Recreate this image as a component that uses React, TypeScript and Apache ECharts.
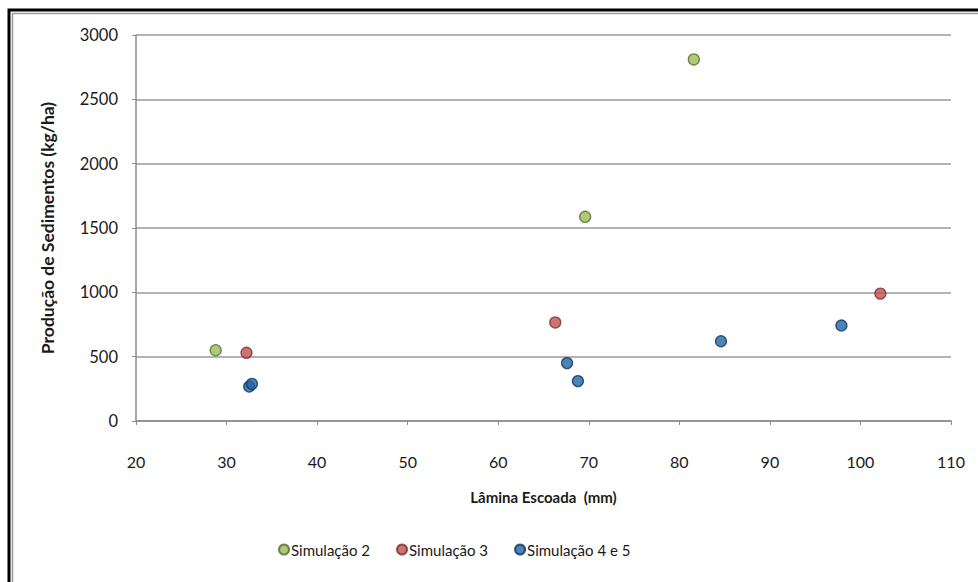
import React, { useEffect, useRef } from "react";
import * as echarts from "echarts";

const seriesNames = ["Simulação 2", "Simulação 3", "Simulação 4 e 5"];
const sim2: number[][] = [
  [28.8, 550],
  [69.6, 1587],
  [81.6, 2810],
];
const sim3: number[][] = [
  [32.2, 530],
  [66.3, 766],
  [102.2, 990],
];
const sim45: number[][] = [
  [32.5, 268],
  [32.8, 288],
  [67.6, 450],
  [68.8, 310],
  [84.6, 620],
  [97.9, 742],
];
const xTitle = "Lâmina Escoada  (mm)";
const yTitle = "Produção de Sedimentos (kg/ha)";

const FONT = "Lato, 'Open Sans', sans-serif";

export default function App() {
  const ref = useRef<HTMLDivElement>(null);
  useEffect(() => {
    if (!ref.current) return;
    const chart = echarts.init(ref.current, undefined, { renderer: "svg" });
    const fills = ["#9BBB59", "#C0504D", "#1F64A8"];
    const borders = ["#4E6B26", "#7A2E2C", "#0E3358"];
    const data = [sim2, sim3, sim45];
    chart.setOption({
      animation: false,
      backgroundColor: "#ffffff",
      textStyle: { fontFamily: FONT },
      grid: { left: 136, right: 27, top: 35, bottom: 161, containLabel: false },
      xAxis: {
        type: "value",
        min: 20,
        max: 110,
        interval: 10,
        name: xTitle,
        nameLocation: "middle",
        nameGap: 68,
        nameTextStyle: { fontFamily: FONT, fontWeight: "bold", fontSize: 15, color: "#1a1a1a" },
        axisLine: { show: true, lineStyle: { color: "#8c8c8c", width: 1.5 } },
        axisTick: { show: true, inside: false, length: 4, lineStyle: { color: "#8c8c8c" } },
        axisLabel: { margin: 32, fontSize: 16, color: "#1a1a1a", fontFamily: FONT },
        splitLine: { show: false },
      },
      yAxis: {
        type: "value",
        min: 0,
        max: 3000,
        interval: 500,
        name: yTitle,
        nameLocation: "middle",
        nameGap: 80,
        nameRotate: 90,
        nameTextStyle: { fontFamily: FONT, fontWeight: "bold", fontSize: 17.5, color: "#1a1a1a" },
        axisLine: { show: true, lineStyle: { color: "#8c8c8c", width: 1.5 } },
        axisTick: { show: true, inside: false, length: 4, lineStyle: { color: "#8c8c8c" } },
        axisLabel: {
          margin: 18,
          fontSize: 16.5,
          color: "#1a1a1a",
          fontFamily: FONT,
          formatter: (v: number) => String(v),
        },
        splitLine: { show: true, lineStyle: { color: "#9a9a9a", width: 1.5 } },
      },
      legend: {
        left: 273,
        top: 537,
        itemWidth: 10,
        itemHeight: 10,
        itemGap: 26,
        icon: "circle",
        textStyle: { fontSize: 15, color: "#1a1a1a", fontFamily: FONT, padding: [0, 0, 0, -3] },
        data: seriesNames,
      },
      series: seriesNames.map((n, i) => ({
        name: n,
        type: "scatter",
        symbol: "circle",
        symbolSize: 11,
        data: data[i],
        itemStyle: { color: fills[i], borderColor: borders[i], borderWidth: 1.3 },
      })),
      graphic: [
        {
          type: "polyline",
          shape: { points: [[9, 582], [9, 10], [978, 10]] },
          style: { stroke: "#000", lineWidth: 3, fill: "none" },
          silent: true,
        },
        {
          type: "polyline",
          shape: { points: [[12.5, 582], [12.5, 13.5], [978, 13.5]] },
          style: { stroke: "#9a9a9a", lineWidth: 1.5, fill: "none" },
          silent: true,
        },
      ],
    });
    return () => chart.dispose();
  }, []);
  return (
    <div
      ref={ref}
      style={{ position: "absolute", left: 0, top: 0, width: 978, height: 582 }}
    />
  );
}
